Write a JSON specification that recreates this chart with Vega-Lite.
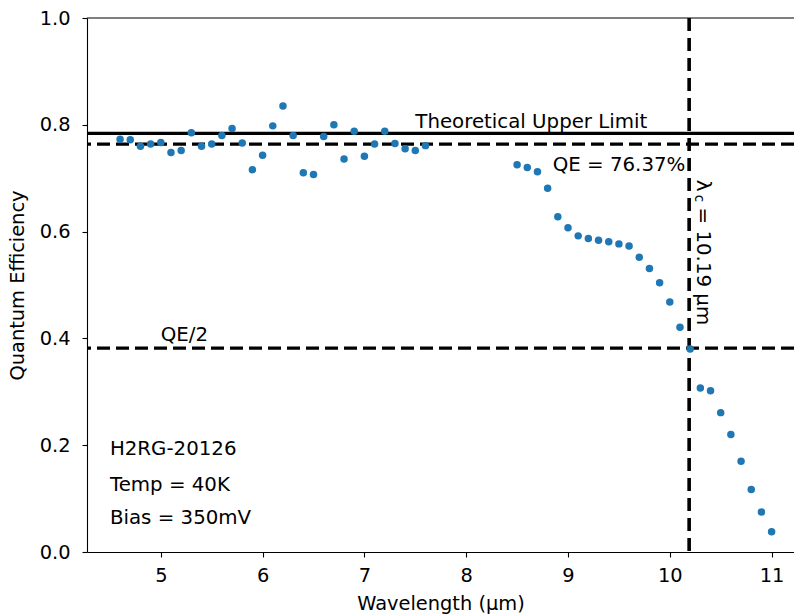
{
  "$schema": "https://vega.github.io/schema/vega-lite/v6.json",
  "autosize": {"type": "none"},
  "padding": {"left": 87, "top": 18, "right": 0, "bottom": 63},
  "width": 707,
  "height": 534,
  "background": "white",
  "config": {
    "view": {"stroke": null},
    "font": "DejaVu Sans",
    "axis": {
      "labelFont": "DejaVu Sans",
      "titleFont": "DejaVu Sans",
      "labelFontSize": 19.4,
      "titleFontSize": 19.4,
      "titleFontWeight": "normal",
      "labelColor": "#000000",
      "titleColor": "#000000",
      "domainColor": "#000000",
      "tickColor": "#000000",
      "domainWidth": 1.1,
      "tickWidth": 1.1,
      "tickSize": 5,
      "grid": false
    },
    "text": {"font": "DejaVu Sans", "fontSize": 19.8, "color": "#000000"}
  },
  "datasets": {
    "qe": [
      {"wl": 4.6, "qe": 0.773}, {"wl": 4.7, "qe": 0.772}, {"wl": 4.8, "qe": 0.760}, {"wl": 4.9, "qe": 0.764},
      {"wl": 5.0, "qe": 0.767}, {"wl": 5.1, "qe": 0.748}, {"wl": 5.2, "qe": 0.752}, {"wl": 5.3, "qe": 0.785},
      {"wl": 5.4, "qe": 0.760}, {"wl": 5.5, "qe": 0.764}, {"wl": 5.6, "qe": 0.780}, {"wl": 5.7, "qe": 0.793},
      {"wl": 5.8, "qe": 0.766}, {"wl": 5.9, "qe": 0.716}, {"wl": 6.0, "qe": 0.743}, {"wl": 6.1, "qe": 0.798},
      {"wl": 6.2, "qe": 0.835}, {"wl": 6.3, "qe": 0.780}, {"wl": 6.4, "qe": 0.710}, {"wl": 6.5, "qe": 0.707},
      {"wl": 6.6, "qe": 0.778}, {"wl": 6.7, "qe": 0.800}, {"wl": 6.8, "qe": 0.736}, {"wl": 6.9, "qe": 0.788},
      {"wl": 7.0, "qe": 0.741}, {"wl": 7.1, "qe": 0.764}, {"wl": 7.2, "qe": 0.788}, {"wl": 7.3, "qe": 0.765},
      {"wl": 7.4, "qe": 0.755}, {"wl": 7.5, "qe": 0.752}, {"wl": 7.6, "qe": 0.761},
      {"wl": 8.5, "qe": 0.725}, {"wl": 8.6, "qe": 0.720}, {"wl": 8.7, "qe": 0.712}, {"wl": 8.8, "qe": 0.681},
      {"wl": 8.9, "qe": 0.628}, {"wl": 9.0, "qe": 0.607}, {"wl": 9.1, "qe": 0.592}, {"wl": 9.2, "qe": 0.587},
      {"wl": 9.3, "qe": 0.584}, {"wl": 9.4, "qe": 0.581}, {"wl": 9.5, "qe": 0.577}, {"wl": 9.6, "qe": 0.573},
      {"wl": 9.7, "qe": 0.552}, {"wl": 9.8, "qe": 0.531}, {"wl": 9.9, "qe": 0.504}, {"wl": 10.0, "qe": 0.468},
      {"wl": 10.1, "qe": 0.421}, {"wl": 10.2, "qe": 0.380}, {"wl": 10.3, "qe": 0.307}, {"wl": 10.4, "qe": 0.302},
      {"wl": 10.5, "qe": 0.261}, {"wl": 10.6, "qe": 0.220}, {"wl": 10.7, "qe": 0.170}, {"wl": 10.8, "qe": 0.117},
      {"wl": 10.9, "qe": 0.075}, {"wl": 11.0, "qe": 0.038}
    ],
    "hlines": [
      {"y": 0.784, "kind": "Theoretical upper limit"},
      {"y": 0.7637, "kind": "QE"},
      {"y": 0.38185, "kind": "QE/2"}
    ],
    "vlines": [
      {"x": 10.19, "kind": "cutoff"}
    ],
    "frame": [
      {"y": 1.0}
    ],
    "labels": [
      {"x": 7.5, "y": 0.794, "text": "Theoretical Upper Limit"},
      {"x": 8.85, "y": 0.714, "text": "QE = 76.37%"},
      {"x": 5.0, "y": 0.395, "text": "QE/2"},
      {"x": 4.5, "y": 0.1816, "text": "H2RG-20126"},
      {"x": 4.5, "y": 0.114, "text": "Temp = 40K"},
      {"x": 4.5, "y": 0.052, "text": "Bias = 350mV"}
    ],
    "cutoff_main": [
      {"x": 10.27, "y": 0.697, "text": "λ"},
      {"x": 10.27, "y": 0.645, "text": "= 10.19 μm"}
    ],
    "cutoff_sub": [
      {"x": 10.25, "y": 0.669, "text": "c"}
    ]
  },
  "layer": [
    {
      "data": {"name": "frame"},
      "mark": {"type": "rule", "color": "#000000", "strokeWidth": 1.1},
      "encoding": {
        "y": {
          "field": "y", "type": "quantitative",
          "scale": {"domain": [0, 1], "nice": false},
          "axis": {"values": [0, 0.2, 0.4, 0.6, 0.8, 1.0], "format": ".1f", "title": "Quantum Efficiency", "labelPadding": 12, "titlePadding": 12}
        }
      }
    },
    {
      "data": {"name": "hlines"},
      "mark": {"type": "rule", "color": "#000000", "strokeWidth": 3.3},
      "encoding": {
        "y": {"field": "y", "type": "quantitative"},
        "strokeDash": {
          "field": "kind", "type": "nominal", "legend": null,
          "scale": {"domain": ["Theoretical upper limit", "QE", "QE/2"], "range": [[1, 0], [13, 6], [13, 6]]}
        }
      }
    },
    {
      "data": {"name": "vlines"},
      "mark": {"type": "rule", "color": "#000000", "strokeWidth": 3.6, "strokeDash": [13, 7]},
      "encoding": {
        "x": {
          "field": "x", "type": "quantitative",
          "scale": {"domain": [4.275, 11.22], "nice": false, "zero": false},
          "axis": {"values": [5, 6, 7, 8, 9, 10, 11], "format": "d", "title": "Wavelength (μm)", "labelPadding": 9, "titlePadding": 10}
        }
      }
    },
    {
      "data": {"name": "qe"},
      "mark": {"type": "circle", "size": 56, "color": "#1f77b4", "opacity": 1},
      "encoding": {
        "x": {"field": "wl", "type": "quantitative"},
        "y": {"field": "qe", "type": "quantitative"}
      }
    },
    {
      "data": {"name": "labels"},
      "mark": {"type": "text", "align": "left", "baseline": "alphabetic"},
      "encoding": {
        "x": {"field": "x", "type": "quantitative"},
        "y": {"field": "y", "type": "quantitative"},
        "text": {"field": "text"}
      }
    },
    {
      "data": {"name": "cutoff_main"},
      "mark": {"type": "text", "align": "left", "baseline": "alphabetic", "angle": 90},
      "encoding": {
        "x": {"field": "x", "type": "quantitative"},
        "y": {"field": "y", "type": "quantitative"},
        "text": {"field": "text"}
      }
    },
    {
      "data": {"name": "cutoff_sub"},
      "mark": {"type": "text", "align": "left", "baseline": "alphabetic", "angle": 90, "fontSize": 13.5},
      "encoding": {
        "x": {"field": "x", "type": "quantitative"},
        "y": {"field": "y", "type": "quantitative"},
        "text": {"field": "text"}
      }
    }
  ]
}
